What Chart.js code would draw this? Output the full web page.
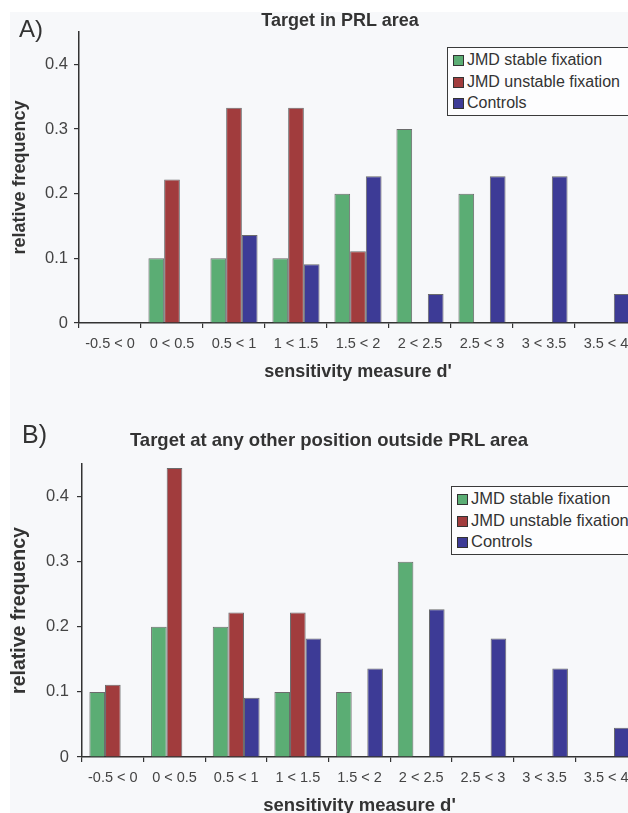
<!DOCTYPE html>
<html>
<head>
<meta charset="utf-8">
<script src="https://cdn.jsdelivr.net/npm/chart.js@4.4.0/dist/chart.umd.min.js"></script>
<style>
  html, body { margin: 0; padding: 0; }
  body { width: 628px; height: 813px; overflow: hidden; position: relative; background: #ffffff;
         font-family: "Liberation Sans", Arial, sans-serif; color: #333; }
  #paper { position: absolute; left: 10px; top: 12px; right: 0; bottom: 0; background: #f7f8fa; }
  canvas { position: absolute; left: 0; }
  .panel { position: absolute; font-size: 24px; color: #333; line-height: 1; }
  .title { position: absolute; font-weight: bold; font-size: 18px; line-height: 1; color: #333;
           transform: translateX(-50%); white-space: nowrap; }
  .legend { position: absolute; background: #fdfdfe; border: 1.5px solid #3a3a3a; padding: 1px 0 1px 5px;
            font-size: 16px; line-height: 21.5px; color: #333; white-space: nowrap; overflow: hidden; }
  .legend span.sw { display: inline-block; width: 9px; height: 9px; border: 1px solid #333;
                    margin-right: 3px; vertical-align: -1px; }
</style>
</head>
<body>
<div id="paper"></div>
<canvas id="chartA" width="640" height="390" style="top:0px"></canvas>
<canvas id="chartB" width="640" height="440" style="top:390px"></canvas>
<div class="panel" style="left:19px; top:17px;">A)</div>
<div class="panel" style="left:22px; top:422px; font-size:25px;">B)</div>
<div class="title" style="left:340px; top:11px;">Target in PRL area</div>
<div class="title" style="left:329px; top:431px; font-size:18.5px;">Target at any other position outside PRL area</div>
<div class="legend" id="legendA" style="left:447px; top:47px; width:175px;"></div>
<div class="legend" id="legendB" style="left:451px; top:486px; width:185px; font-size:16.5px;"></div>

<script>
// sensitivity bins (d')
const categories = ['-0.5 < 0', '0 < 0.5', '0.5 < 1', '1 < 1.5', '1.5 < 2', '2 < 2.5', '2.5 < 3', '3 < 3.5', '3.5 < 4'];
const seriesNames = ['JMD stable fixation', 'JMD unstable fixation', 'Controls'];
const seriesColors = ['#5bad74', '#a13c3d', '#3d3b96'];
const yTicks = [0, 0.1, 0.2, 0.3, 0.4];

// A) target in PRL area
const stablePRL = [0, 0.1, 0.1, 0.1, 0.2, 0.3, 0.2, 0, 0];
const unstablePRL = [0, 0.222, 0.333, 0.333, 0.111, 0, 0, 0, 0];
const controlsPRL = [0, 0, 0.136, 0.091, 0.227, 0.045, 0.227, 0.227, 0.045];

// B) target at any other position
const stableOther = [0.1, 0.2, 0.2, 0.1, 0.1, 0.3, 0, 0, 0];
const unstableOther = [0.111, 0.444, 0.222, 0.222, 0, 0, 0, 0, 0];
const controlsOther = [0, 0, 0.091, 0.182, 0.136, 0.227, 0.182, 0.136, 0.045];

const FONT = '"Liberation Sans", Arial, sans-serif';

function buildLegend(id) {
    const box = document.getElementById(id);
    seriesNames.forEach((name, i) => {
        const row = document.createElement('div');
        const sw = document.createElement('span');
        sw.className = 'sw';
        sw.style.background = seriesColors[i];
        row.appendChild(sw);
        row.appendChild(document.createTextNode(name));
        box.appendChild(row);
    });
}

function makeChart(canvasId, values, s) {
    const ctx = document.getElementById(canvasId).getContext('2d');
    return new Chart(ctx, {
        type: 'bar',
        data: {
            labels: categories,
            datasets: values.map((v, i) => ({
                label: seriesNames[i],
                data: v,
                backgroundColor: seriesColors[i],
                borderColor: 'rgba(60,60,60,0.75)',
                borderWidth: 1,
                categoryPercentage: 0.76,
                barPercentage: 1
            }))
        },
        options: {
            responsive: false,
            animation: false,
            layout: { padding: { left: 0, right: 3, top: s.top, bottom: 0 } },
            plugins: {
                legend: { display: false },
                tooltip: { enabled: false },
                title: { display: false }
            },
            scales: {
                x: {
                    offset: true,
                    afterFit: scale => { scale.height = s.xHeight; },
                    grid: { offset: true, drawOnChartArea: false, drawTicks: true, tickLength: 5,
                            color: '#333', lineWidth: 1.2 },
                    border: { display: true, color: '#333', width: 1.5 },
                    ticks: { color: '#444', padding: 7, maxRotation: 0, autoSkip: false,
                             font: { family: FONT, size: 14.5 } },
                    title: { display: true, text: "sensitivity measure d'", color: '#333',
                             font: { family: FONT, size: s.xTitleSize, weight: 'bold' },
                             padding: { top: 0, bottom: s.xTitlePad } }
                },
                y: {
                    min: 0,
                    max: 0.45,
                    afterFit: scale => { scale.width = s.yWidth; },
                    afterBuildTicks: scale => { scale.ticks = yTicks.map(v => ({ value: v })); },
                    grid: { drawOnChartArea: false, drawTicks: true, tickLength: 5,
                            color: '#333', lineWidth: 1.2 },
                    border: { display: true, color: '#333', width: 1.5 },
                    ticks: { color: '#444', padding: s.yTickPad,
                             font: { family: FONT, size: 16.5 },
                             callback: v => (v === 0 ? '0' : v.toFixed(1)) },
                    title: { display: true, text: 'relative frequency', color: '#333',
                             font: { family: FONT, size: s.yTitleSize, weight: 'bold' },
                             padding: { top: s.yTitlePad, bottom: 0 } }
                }
            }
        }
    });
}

document.addEventListener('DOMContentLoaded', () => {
    buildLegend('legendA');
    buildLegend('legendB');

    makeChart('chartA', [stablePRL, unstablePRL, controlsPRL], {
        top: 32, xHeight: 67, yWidth: 79, yTickPad: 6,
        xTitleSize: 18, xTitlePad: 7, yTitleSize: 18, yTitlePad: 9
    });

    makeChart('chartB', [stableOther, unstableOther, controlsOther], {
        top: 74, xHeight: 73, yWidth: 82, yTickPad: 8,
        xTitleSize: 18.5, xTitlePad: 13, yTitleSize: 19.5, yTitlePad: 8
    });
});
</script>
</body>
</html>
